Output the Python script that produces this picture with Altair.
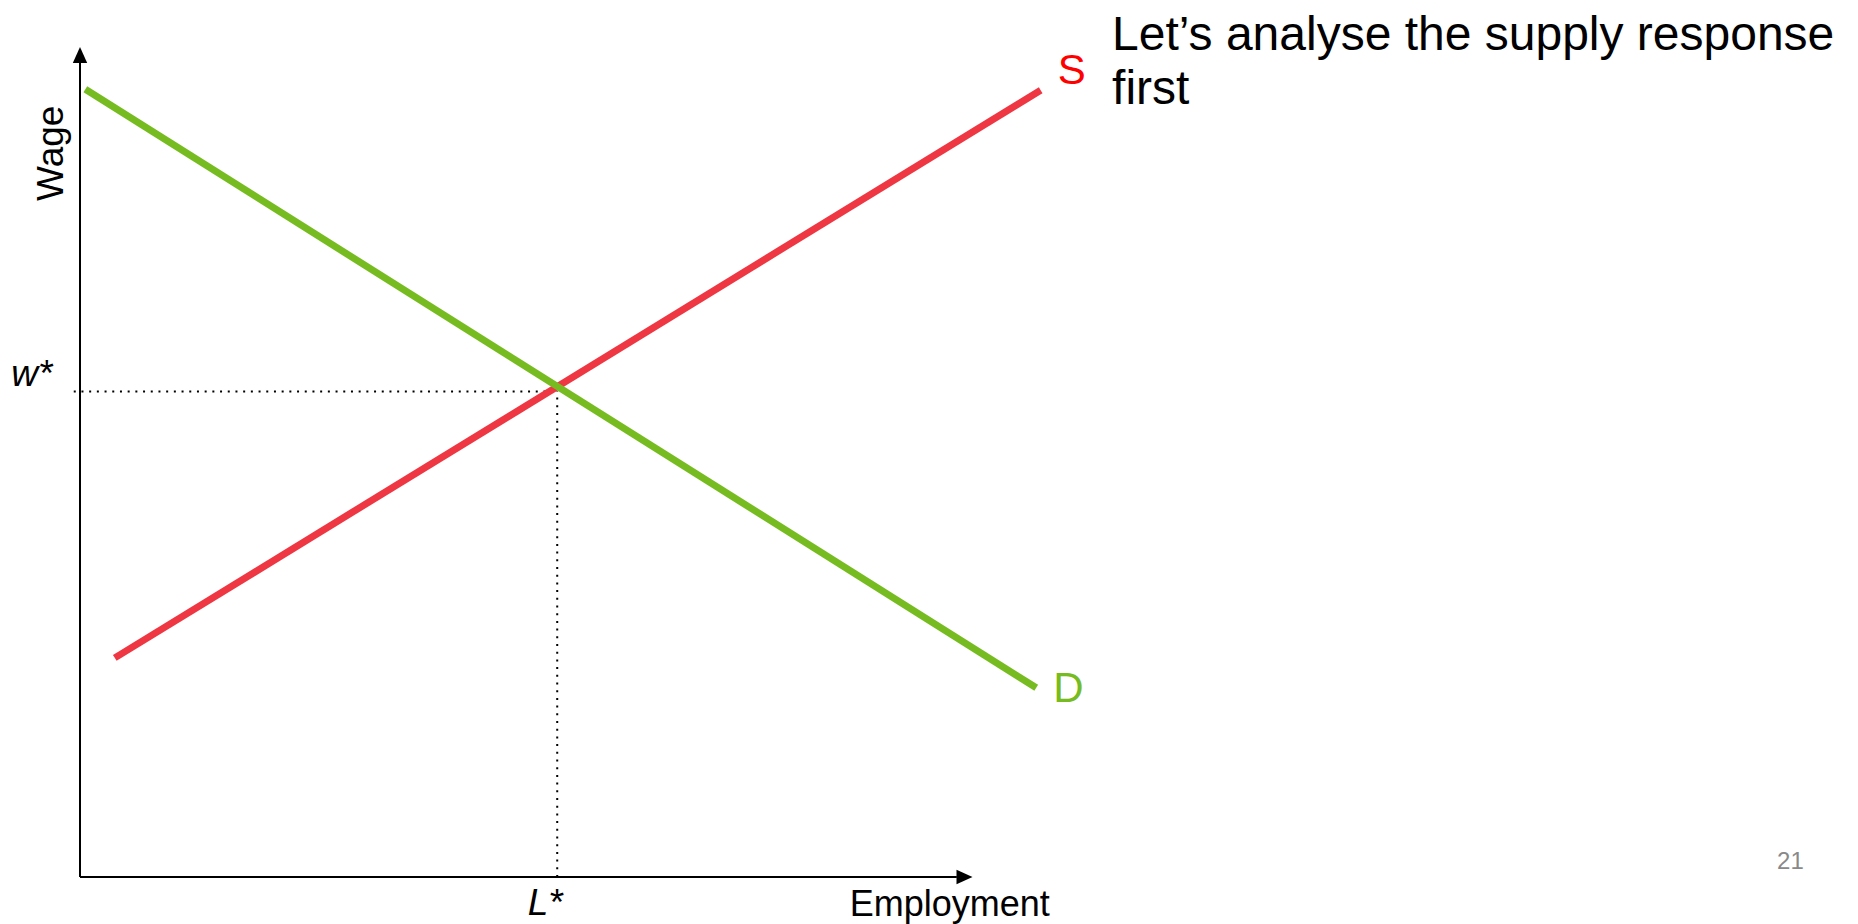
import altair as alt
import pandas as pd

# ---------------- data (economic units, both axes run 0..100) ----------------
supply_x = [3.9, 107.7]
supply_y = [26.4, 94.8]
demand_x = [0.6, 107.2]
demand_y = [94.9, 22.8]
L_star = 53.5
w_star = 58.5

curve_names = ["S", "D"]
curve_colors = ["#EE3742", "#76BC21"]
label_colors = ["#FF0000", "#76BC21"]
label_x = [109.6, 109.1]
label_y = [95.5, 21.1]

axis_end = 100.0
x_axis_label = "Employment"
y_axis_label = "Wage"
eq_labels = ["L*", "w*"]
note_lines = ["Let\u2019s analyse the supply response", "first"]
page_number = "21"

# ---------------- layout ----------------
W, H = 1842, 916
ORIGIN_X, ORIGIN_Y = 72.0, 869.0      # chart-pixel position of (0,0)
PX_X, PX_Y = 8.92, 8.3                # pixels per data unit
XDOM = [-ORIGIN_X / PX_X, (W - ORIGIN_X) / PX_X]
YDOM = [-(H - ORIGIN_Y) / PX_Y, ORIGIN_Y / PX_Y]
FONT = "Liberation Sans"


def X(field="x"):
    return alt.X(f"{field}:Q", scale=alt.Scale(domain=XDOM, nice=False, zero=False), axis=None)


def Y(field="y"):
    return alt.Y(f"{field}:Q", scale=alt.Scale(domain=YDOM, nice=False, zero=False), axis=None)


curves = pd.DataFrame({
    "name": ["S", "S", "D", "D"],
    "x": supply_x + demand_x,
    "y": supply_y + demand_y,
})

lines = alt.Chart(curves).mark_line(strokeWidth=7, strokeCap="butt").encode(
    x=X(), y=Y(),
    color=alt.Color("name:N", scale=alt.Scale(domain=curve_names, range=curve_colors), legend=None),
    detail="name:N",
)

# axes
axes_df = pd.DataFrame({
    "x": [0.0, 0.0], "x2": [0.0, axis_end - 1.7],
    "y": [0.0, 0.0], "y2": [axis_end - 1.9, 0.0],
})
axes = alt.Chart(axes_df).mark_rule(strokeWidth=2, color="black").encode(
    x=X(), x2="x2:Q", y=Y(), y2="y2:Q"
)

arrow_up = alt.Chart(pd.DataFrame({"x": [0.0], "y": [axis_end - 0.96]})).mark_point(
    shape="M-0.9,1L0.9,1L0,-1Z", size=256, filled=True, color="black", opacity=1
).encode(x=X(), y=Y())
arrow_right = alt.Chart(pd.DataFrame({"x": [axis_end - 0.84], "y": [0.0]})).mark_point(
    shape="M-1,-0.9L1,0L-1,0.9Z", size=256, filled=True, color="black", opacity=1
).encode(x=X(), y=Y())

# dotted guides
guides_df = pd.DataFrame({
    "x": [-0.7, L_star], "x2": [L_star, L_star],
    "y": [w_star, 0.0], "y2": [w_star, w_star],
})
guides = alt.Chart(guides_df).mark_rule(strokeWidth=2, color="black", strokeDash=[2, 5.7]).encode(
    x=X(), x2="x2:Q", y=Y(), y2="y2:Q"
)

# curve labels
curve_lab = alt.Chart(pd.DataFrame({
    "t": curve_names, "x": label_x, "y": label_y, "c": label_colors
})).mark_text(font=FONT, fontSize=42, align="left", baseline="alphabetic").encode(
    x=X(), y=Y(), text="t:N", color=alt.Color("c:N", scale=None)
)

# equilibrium labels
eq_lab = alt.Chart(pd.DataFrame({
    "t": eq_labels, "x": [50.2, -7.7], "y": [-4.6, 59.2]
})).mark_text(font=FONT, fontSize=37, fontStyle="italic", align="left", baseline="alphabetic",
              color="black").encode(x=X(), y=Y(), text="t:N")

# axis titles
x_title = alt.Chart(pd.DataFrame({"t": [x_axis_label], "x": [97.5], "y": [-4.7]})).mark_text(
    font=FONT, fontSize=36, align="center", baseline="alphabetic", color="black"
).encode(x=X(), y=Y(), text="t:N")
y_title = alt.Chart(pd.DataFrame({"t": [y_axis_label], "x": [-1.9], "y": [87.2]})).mark_text(
    font=FONT, fontSize=37, align="center", baseline="alphabetic", angle=270, color="black"
).encode(x=X(), y=Y(), text="t:N")

# note text
note = alt.Chart(pd.DataFrame({"t": note_lines, "x": [115.7, 115.7], "y": [99.6, 93.1]})).mark_text(
    font=FONT, fontSize=48, align="left", baseline="alphabetic", color="black"
).encode(x=X(), y=Y(), text="t:N")

page = alt.Chart(pd.DataFrame({"t": [page_number], "x": [190.25], "y": [1.0]})).mark_text(
    font=FONT, fontSize=24, align="left", baseline="alphabetic", color="#898989"
).encode(x=X(), y=Y(), text="t:N")

chart = alt.layer(
    guides, axes, arrow_up, arrow_right, lines, curve_lab, eq_lab, x_title, y_title, note, page
).properties(
    width=W, height=H, padding=0, autosize=alt.AutoSizeParams(type="none")
).configure_view(stroke=None)

chart.save("out.html", embed_options={"renderer": "svg", "actions": False})
